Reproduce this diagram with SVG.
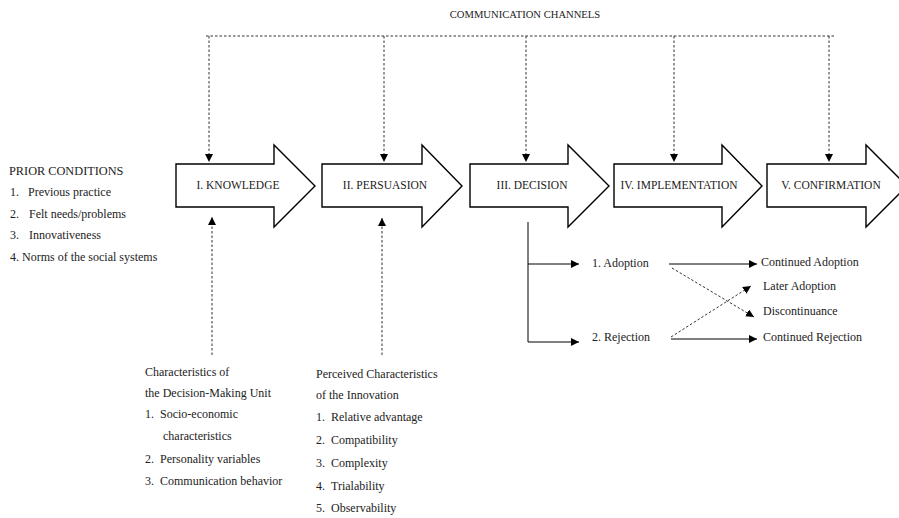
<svg xmlns="http://www.w3.org/2000/svg" width="899" height="518" viewBox="0 0 899 518" font-family="'Liberation Serif', 'DejaVu Serif', serif" font-size="12">
<defs>
<marker id="ah" markerUnits="userSpaceOnUse" markerWidth="9" markerHeight="8" refX="8" refY="4" orient="auto">
<path d="M0,0 L8,4 L0,8 Z" fill="#000"/>
</marker>
<style>
text{font-family:'Liberation Serif','DejaVu Serif',serif;font-size:12px;fill:#222}
.cap{font-size:11.5px}
.title{font-size:10.6px;text-anchor:middle}
.stage{fill:#fff;stroke:#000;stroke-width:1.4}
.lbl{text-anchor:middle;font-size:11.5px}
.dot{fill:none;stroke:#333;stroke-width:1;stroke-dasharray:2.5,2}
.sol{fill:none;stroke:#000;stroke-width:1}
</style>
</defs>
<rect width="899" height="518" fill="#fff"/>
<text x="525" y="18" class="title">COMMUNICATION CHANNELS</text>

<g id="connectors">
<path class="dot" d="M206,36 H834"/>
<path class="dot" d="M209,36 V162" marker-end="url(#ah)"/>
<path class="dot" d="M384,36 V162" marker-end="url(#ah)"/>
<path class="dot" d="M526,36 V162" marker-end="url(#ah)"/>
<path class="dot" d="M674,36 V162" marker-end="url(#ah)"/>
<path class="dot" d="M829,36 V162" marker-end="url(#ah)"/>
<path class="dot" d="M212,355 V217" marker-end="url(#ah)"/>
<path class="dot" d="M382,355 V218" marker-end="url(#ah)"/>
<path class="sol" d="M528,222 V342"/>
<path class="sol" d="M528,264 H579" marker-end="url(#ah)"/>
<path class="sol" d="M528,342 H579" marker-end="url(#ah)"/>
<path class="sol" d="M669,264 H757" marker-end="url(#ah)"/>
<path class="sol" d="M671,339 H757" marker-end="url(#ah)"/>
<path class="dot" d="M672,268 L754,317" marker-end="url(#ah)"/>
<path class="dot" d="M671,337 L751,286" marker-end="url(#ah)"/>
</g>

<g id="knowledge">
<polygon class="stage" points="176,164 274,164 274,145 315,186 274,227 274,207 176,207"/>
<text x="238" y="189" class="lbl">I. KNOWLEDGE</text>
</g>
<g id="persuasion">
<polygon class="stage" points="322,164 422,164 422,145 462,186 422,227 422,207 322,207"/>
<text x="385" y="189" class="lbl">II. PERSUASION</text>
</g>
<g id="decision">
<polygon class="stage" points="470,164 568,164 568,145 609,186 568,227 568,207 470,207"/>
<text x="532" y="189" class="lbl">III. DECISION</text>
</g>
<g id="implementation">
<polygon class="stage" points="614,164 722,164 722,145 762,186 722,227 722,207 614,207"/>
<text x="679" y="189" class="lbl">IV. IMPLEMENTATION</text>
</g>
<g id="confirmation">
<polygon class="stage" points="767,164 866,164 866,145 907,186 866,227 866,207 767,207"/>
<text x="831" y="189" class="lbl">V. CONFIRMATION</text>
</g>

<g id="prior-conditions">
<text x="9" y="175" class="cap" style="font-size:12.3px">PRIOR CONDITIONS</text>
<text x="10" y="196">1.</text><text x="28" y="196">Previous practice</text>
<text x="10" y="218">2.</text><text x="29" y="218">Felt needs/problems</text>
<text x="10" y="239">3.</text><text x="29" y="239">Innovativeness</text>
<text x="10" y="261">4.</text><text x="22" y="261">Norms of the social systems</text>
</g>

<g id="decision-unit">
<text x="145" y="376">Characteristics of</text>
<text x="145" y="397">the Decision-Making Unit</text>
<text x="145" y="418">1.</text><text x="160" y="418">Socio-economic</text>
<text x="163" y="440">characteristics</text>
<text x="145" y="463">2.</text><text x="160" y="463">Personality variables</text>
<text x="145" y="485">3.</text><text x="160" y="485">Communication behavior</text>
</g>

<g id="innovation-characteristics">
<text x="316" y="378">Perceived Characteristics</text>
<text x="316" y="399">of the Innovation</text>
<text x="316" y="421">1.</text><text x="331" y="421">Relative advantage</text>
<text x="316" y="444">2.</text><text x="331" y="444">Compatibility</text>
<text x="316" y="467">3.</text><text x="331" y="467">Complexity</text>
<text x="316" y="490">4.</text><text x="331" y="490">Trialability</text>
<text x="316" y="512">5.</text><text x="331" y="512">Observability</text>
</g>

<g id="adoption"><text x="592" y="267">1. Adoption</text></g>
<g id="rejection"><text x="592" y="341">2. Rejection</text></g>
<g id="continued-adoption"><text x="761" y="266">Continued Adoption</text></g>
<g id="later-adoption"><text x="763" y="290">Later Adoption</text></g>
<g id="discontinuance"><text x="763" y="315">Discontinuance</text></g>
<g id="continued-rejection"><text x="763" y="341">Continued Rejection</text></g>
</svg>
